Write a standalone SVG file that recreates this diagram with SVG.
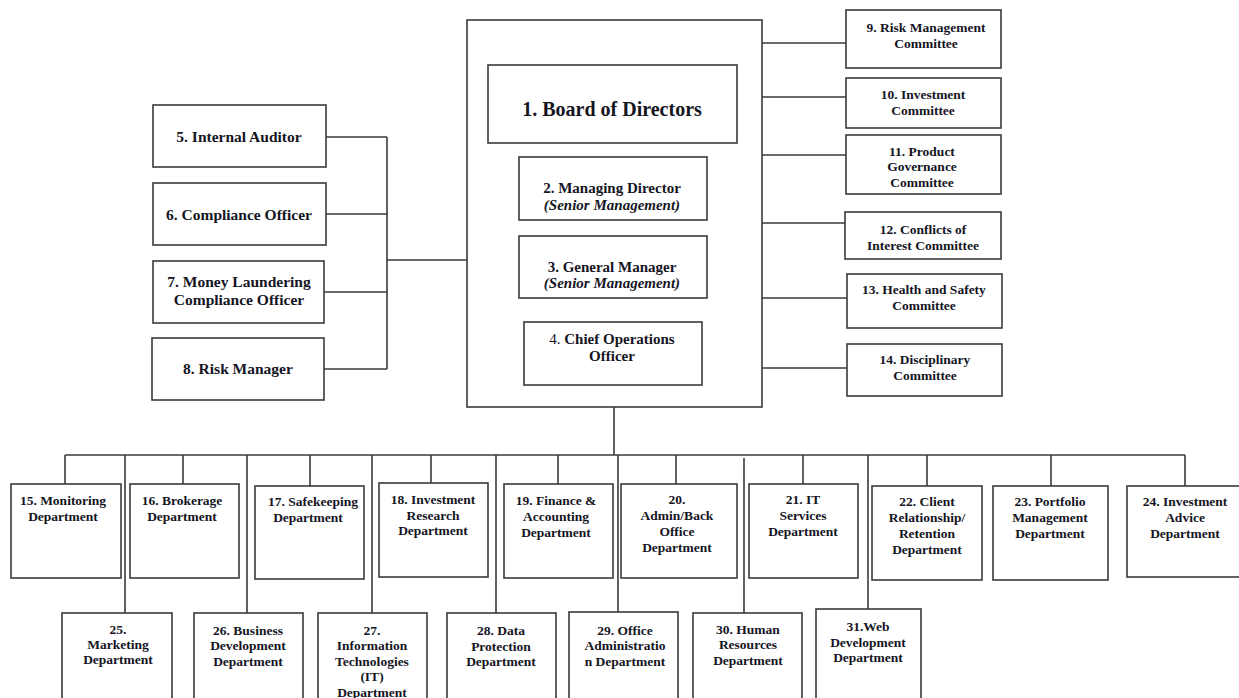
<svg xmlns="http://www.w3.org/2000/svg" width="1239" height="698" viewBox="0 0 1239 698">
<style>
.box{fill:#fff;stroke:#3a3a3a;stroke-width:1.6}
.ln{fill:none;stroke:#3a3a3a;stroke-width:1.6}
.blue{fill:none;stroke:#8e9fc4;stroke-width:1.4}
text{font-family:"Liberation Serif","Times New Roman",serif;font-weight:bold;fill:#15151f;text-anchor:middle}
.s{font-size:13.5px}
.m{font-size:15px}
.l{font-size:15.5px}
.xl{font-size:20px}
.it{font-style:italic}
.nw{font-weight:normal}
</style>
<rect width="1239" height="698" fill="#fff"/>
<g id="connectors">
<line class="ln" x1="326" y1="137" x2="387" y2="137"/>
<line class="ln" x1="326" y1="214" x2="387" y2="214"/>
<line class="ln" x1="324" y1="292" x2="387" y2="292"/>
<line class="ln" x1="324" y1="369" x2="387" y2="369"/>
<line class="ln" x1="387" y1="137" x2="387" y2="369"/>
<line class="ln" x1="387" y1="260" x2="467" y2="260"/>
<line class="ln" x1="762" y1="43" x2="846" y2="43"/>
<line class="ln" x1="762" y1="97" x2="846" y2="97"/>
<line class="ln" x1="762" y1="155" x2="846" y2="155"/>
<line class="ln" x1="762" y1="223" x2="845" y2="223"/>
<line class="ln" x1="762" y1="298" x2="847" y2="298"/>
<line class="ln" x1="762" y1="368" x2="847" y2="368"/>
<line class="ln" x1="612" y1="143" x2="612" y2="157"/>
<line class="ln" x1="612" y1="220" x2="612" y2="236"/>
<line class="blue" x1="612" y1="298" x2="612" y2="322"/>
<line class="ln" x1="614" y1="407" x2="614" y2="455"/>
<line class="ln" x1="65" y1="455" x2="1185" y2="455"/>
<line class="ln" x1="65" y1="455" x2="65" y2="484"/>
<line class="ln" x1="183" y1="455" x2="183" y2="484"/>
<line class="ln" x1="310" y1="455" x2="310" y2="486"/>
<line class="ln" x1="431" y1="455" x2="431" y2="483"/>
<line class="ln" x1="558" y1="455" x2="558" y2="484"/>
<line class="ln" x1="676" y1="455" x2="676" y2="484"/>
<line class="ln" x1="803" y1="455" x2="803" y2="484"/>
<line class="ln" x1="927" y1="455" x2="927" y2="486"/>
<line class="ln" x1="1051" y1="455" x2="1051" y2="486"/>
<line class="ln" x1="1185" y1="455" x2="1185" y2="486"/>
<line class="ln" x1="125" y1="455" x2="125" y2="613"/>
<line class="ln" x1="247" y1="455" x2="247" y2="613"/>
<line class="ln" x1="372" y1="455" x2="372" y2="613"/>
<line class="ln" x1="496" y1="455" x2="496" y2="613"/>
<line class="ln" x1="618" y1="455" x2="618" y2="612"/>
<line class="ln" x1="744" y1="458" x2="744" y2="613"/>
<line class="ln" x1="868" y1="455" x2="868" y2="609"/>
</g>
<g id="frame"><rect class="box" x="467" y="20" width="295" height="387"/></g>
<g id="n1"><rect class="box" x="488" y="65" width="249" height="78"/><text class="xl" x="612" y="116">1. Board of Directors</text></g>
<g id="n2"><rect class="box" x="519" y="157" width="188" height="63"/><text class="m" x="612" y="193">2. Managing Director</text><text class="m it" x="612" y="210">(Senior Management)</text></g>
<g id="n3"><rect class="box" x="519" y="236" width="188" height="62"/><text class="m" x="612" y="272">3. General Manager</text><text class="m it" x="612" y="288">(Senior Management)</text></g>
<g id="n4"><rect class="box" x="524" y="322" width="178" height="63"/><text class="m" x="612" y="344"><tspan class="nw">4.</tspan> Chief Operations</text><text class="m" x="612" y="361">Officer</text></g>
<g id="n5"><rect class="box" x="153" y="105" width="173" height="62"/><text class="l" x="239" y="142">5. Internal Auditor</text></g>
<g id="n6"><rect class="box" x="153" y="183" width="173" height="62"/><text class="l" x="239" y="220">6. Compliance Officer</text></g>
<g id="n7"><rect class="box" x="153" y="261" width="171" height="62"/><text class="l" x="239" y="287">7. Money Laundering</text><text class="l" x="239" y="305">Compliance Officer</text></g>
<g id="n8"><rect class="box" x="152" y="338" width="172" height="62"/><text class="l" x="238" y="374">8. Risk Manager</text></g>
<g id="n9"><rect class="box" x="846" y="10" width="155" height="58"/><text class="s" x="926" y="32">9. Risk Management</text><text class="s" x="926" y="48">Committee</text></g>
<g id="n10"><rect class="box" x="846" y="78" width="155" height="50"/><text class="s" x="923" y="99">10. Investment</text><text class="s" x="923" y="115">Committee</text></g>
<g id="n11"><rect class="box" x="846" y="135" width="155" height="59"/><text class="s" x="922" y="156">11. Product</text><text class="s" x="922" y="171">Governance</text><text class="s" x="922" y="187">Committee</text></g>
<g id="n12"><rect class="box" x="845" y="212" width="156" height="47"/><text class="s" x="923" y="234">12. Conflicts of</text><text class="s" x="923" y="250">Interest Committee</text></g>
<g id="n13"><rect class="box" x="847" y="274" width="155" height="54"/><text class="s" x="924" y="294">13. Health and Safety</text><text class="s" x="924" y="310">Committee</text></g>
<g id="n14"><rect class="box" x="847" y="344" width="155" height="52"/><text class="s" x="925" y="364">14. Disciplinary</text><text class="s" x="925" y="380">Committee</text></g>
<g id="n15"><rect class="box" x="11" y="484" width="110" height="94"/><text class="s" x="63" y="505">15. Monitoring</text><text class="s" x="63" y="521">Department</text></g>
<g id="n16"><rect class="box" x="130" y="484" width="109" height="94"/><text class="s" x="182" y="505">16. Brokerage</text><text class="s" x="182" y="521">Department</text></g>
<g id="n17"><rect class="box" x="255" y="486" width="109" height="93"/><text class="s" x="313" y="506">17. Safekeeping</text><text class="s" x="308" y="522">Department</text></g>
<g id="n18"><rect class="box" x="379" y="483" width="109" height="94"/><text class="s" x="433" y="504">18. Investment</text><text class="s" x="433" y="520">Research</text><text class="s" x="433" y="535">Department</text></g>
<g id="n19"><rect class="box" x="504" y="484" width="109" height="94"/><text class="s" x="556" y="505">19. Finance &amp;</text><text class="s" x="556" y="521">Accounting</text><text class="s" x="556" y="537">Department</text></g>
<g id="n20"><rect class="box" x="621" y="484" width="116" height="94"/><text class="s" x="677" y="504">20.</text><text class="s" x="677" y="520">Admin/Back</text><text class="s" x="677" y="536">Office</text><text class="s" x="677" y="552">Department</text></g>
<g id="n21"><rect class="box" x="749" y="484" width="109" height="94"/><text class="s" x="803" y="504">21. IT</text><text class="s" x="803" y="520">Services</text><text class="s" x="803" y="536">Department</text></g>
<g id="n22"><rect class="box" x="872" y="486" width="110" height="94"/><text class="s" x="927" y="506">22. Client</text><text class="s" x="927" y="522">Relationship/</text><text class="s" x="927" y="538">Retention</text><text class="s" x="927" y="554">Department</text></g>
<g id="n23"><rect class="box" x="993" y="486" width="115" height="94"/><text class="s" x="1050" y="506">23. Portfolio</text><text class="s" x="1050" y="522">Management</text><text class="s" x="1050" y="538">Department</text></g>
<g id="n24"><rect class="box" x="1127" y="486" width="120" height="91"/><text class="s" x="1185" y="506">24. Investment</text><text class="s" x="1185" y="522">Advice</text><text class="s" x="1185" y="538">Department</text></g>
<g id="n25"><rect class="box" x="62" y="613" width="110" height="95"/><text class="s" x="118" y="634">25.</text><text class="s" x="118" y="649">Marketing</text><text class="s" x="118" y="664">Department</text></g>
<g id="n26"><rect class="box" x="194" y="613" width="109" height="95"/><text class="s" x="248" y="635">26. Business</text><text class="s" x="248" y="650">Development</text><text class="s" x="248" y="666">Department</text></g>
<g id="n27"><rect class="box" x="318" y="613" width="109" height="95"/><text class="s" x="372" y="635">27.</text><text class="s" x="372" y="650">Information</text><text class="s" x="372" y="666">Technologies</text><text class="s" x="372" y="681">(IT)</text><text class="s" x="372" y="697">Department</text></g>
<g id="n28"><rect class="box" x="447" y="613" width="109" height="95"/><text class="s" x="501" y="635">28. Data</text><text class="s" x="501" y="651">Protection</text><text class="s" x="501" y="666">Department</text></g>
<g id="n29"><rect class="box" x="569" y="612" width="109" height="96"/><text class="s" x="625" y="635">29. Office</text><text class="s" x="625" y="650">Administratio</text><text class="s" x="625" y="666">n Department</text></g>
<g id="n30"><rect class="box" x="693" y="613" width="109" height="95"/><text class="s" x="748" y="634">30.  Human</text><text class="s" x="748" y="649">Resources</text><text class="s" x="748" y="665">Department</text></g>
<g id="n31"><rect class="box" x="816" y="609" width="105" height="99"/><text class="s" x="868" y="631">31.Web</text><text class="s" x="868" y="647">Development</text><text class="s" x="868" y="662">Department</text></g>
</svg>
